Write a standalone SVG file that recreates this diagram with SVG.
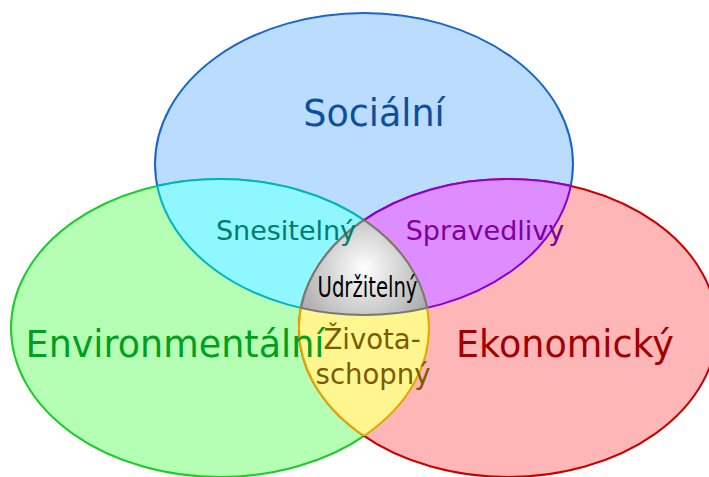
<svg xmlns="http://www.w3.org/2000/svg" xmlns:xlink="http://www.w3.org/1999/xlink" width="709" height="477" viewBox="0 0 709 477">
<style>
  .lbl{font-family:"DejaVu Sans","Liberation Sans",sans-serif;text-anchor:middle}
  .big{font-size:36.5px}
  .mid{font-size:27px}
  use{stroke-width:2}
</style>
<defs>
  <ellipse id="eT" cx="364" cy="164" rx="209" ry="151"/>
  <ellipse id="eL" cx="220" cy="328" rx="209" ry="149"/>
  <ellipse id="eR" cx="508" cy="328" rx="209" ry="149"/>
  <clipPath id="cT"><ellipse cx="364" cy="164" rx="209" ry="151"/></clipPath>
  <clipPath id="cL"><ellipse cx="220" cy="328" rx="209" ry="149"/></clipPath>
  <clipPath id="cR"><ellipse cx="508" cy="328" rx="209" ry="149"/></clipPath>
  <radialGradient id="gC" gradientUnits="userSpaceOnUse" cx="364" cy="268" r="70">
    <stop offset="0" stop-color="#ffffff"/>
    <stop offset="1" stop-color="#adadad"/>
  </radialGradient>
</defs>
<g id="social"><use xlink:href="#eT" href="#eT" fill="#b9dcff" stroke="#1a66cc"/></g>
<g id="environmental"><use xlink:href="#eL" href="#eL" fill="#b4ffb4" stroke="#1ccc2a"/></g>
<g id="economic"><use xlink:href="#eR" href="#eR" fill="#ffb6b6" stroke="#cc0000"/></g>
<g id="snesitelny">
  <g clip-path="url(#cT)"><use xlink:href="#eL" href="#eL" fill="#8ff7ff" stroke="#00b4c4"/></g>
  <g clip-path="url(#cL)"><use xlink:href="#eT" href="#eT" fill="none" stroke="#00b4c4"/></g>
</g>
<g id="spravedlivy">
  <g clip-path="url(#cT)"><use xlink:href="#eR" href="#eR" fill="#dd8dff" stroke="#8a00d0"/></g>
  <g clip-path="url(#cR)"><use xlink:href="#eT" href="#eT" fill="none" stroke="#8a00d0"/></g>
</g>
<g id="zivotaschopny">
  <g clip-path="url(#cL)"><use xlink:href="#eR" href="#eR" fill="#fff690" stroke="#e2a800"/></g>
  <g clip-path="url(#cR)"><use xlink:href="#eL" href="#eL" fill="none" stroke="#e2a800"/></g>
</g>
<g id="udrzitelny">
  <g clip-path="url(#cT)"><g clip-path="url(#cL)"><use xlink:href="#eR" href="#eR" fill="url(#gC)" stroke="#777777"/></g></g>
  <g clip-path="url(#cL)"><g clip-path="url(#cR)"><use xlink:href="#eT" href="#eT" fill="none" stroke="#777777"/></g></g>
  <g clip-path="url(#cT)"><g clip-path="url(#cR)"><use xlink:href="#eL" href="#eL" fill="none" stroke="#777777"/></g></g>
</g>
<g id="labels">
  <text class="lbl big" x="374" y="126" fill="#0c4f9e">Sociální</text>
  <text class="lbl big" x="175" y="357" fill="#00a01e">Environmentální</text>
  <text class="lbl big" x="565" y="357" fill="#a00000">Ekonomický</text>
  <text class="lbl mid" x="286" y="240" fill="#007d6c">Snesitelný</text>
  <text class="lbl mid" x="485" y="240" fill="#7c0099">Spravedlivy</text>
  <text class="lbl mid" x="367.5" y="297" fill="#000000" style="font-size:29px" textLength="100" lengthAdjust="spacingAndGlyphs">Udržitelný</text>
  <text class="lbl mid" x="372" y="349" fill="#7a5c00" style="font-size:27.5px">Života-</text>
  <text class="lbl mid" x="373" y="384" fill="#7a5c00" style="font-size:27.5px">schopný</text>
</g>
</svg>
